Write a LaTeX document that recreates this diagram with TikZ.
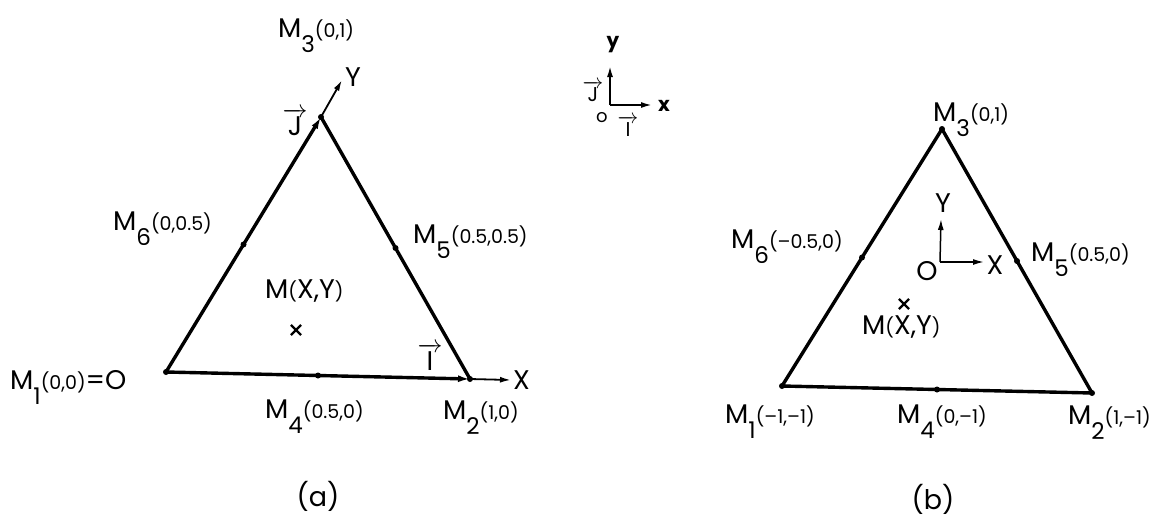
\documentclass[tikz,border=0pt]{standalone}
\usepackage{fontspec}
\setmainfont{Poppins}
\usetikzlibrary{arrows.meta,shapes.misc,calc}
\newcommand{\Mlab}[2]{M\raisebox{-15pt}{\fontsize{23}{23}\selectfont #1}{\fontsize{19}{19}\selectfont #2}}
\newcommand{\varr}[1]{$\overrightarrow{\hbox{\,#1\,}}$}
\begin{document}
\begin{tikzpicture}[x=1pt,y=-1pt,
  every node/.style={inner sep=0pt,font=\fontsize{27}{27}\selectfont},
  edge/.style={line width=3.4pt,line cap=round,line join=round},
  tip/.style={-{Latex[length=12pt,width=7pt]}},
  ax/.style={line width=1.8pt,-{Latex[length=11pt,width=6pt]}},
  vdot/.style={circle,fill,inner sep=0pt,minimum size=6pt},
  lab/.style={anchor=base west}]
\fill[white] (0,0) rectangle (1166,522);
\useasboundingbox (0,0) rectangle (1166,522);
% ---------- (a) ----------
\coordinate (A1) at (166,372);
\coordinate (A2) at (470,379);
\coordinate (A3) at (321,117);
\coordinate (A4) at ($(A1)!0.5!(A2)$);
\coordinate (A5) at ($(A2)!0.5!(A3)$);
\coordinate (A6) at ($(A1)!0.5!(A3)$);
\coordinate (AX) at (511,380);
\coordinate (AY) at (342,80);
\draw[edge] (A2) -- (A3);
\draw[edge,tip] (A1) -- (A2);
\draw[edge,tip] (A1) -- (A3);
\draw[ax] (A2) -- (AX);
\draw[ax] (A3) -- (AY);
\foreach \p in {A1,A2,A3,A4,A5,A6} \node[vdot] at (\p) {};
\node[anchor=west] (aX) at (513,380) {X};
\node (aY) at (353,77) {Y};
\node (aJ) at (295,122) {\varr{J}};
\node (aI) at (430,357) {\varr{I}};
\node[lab] (aM3) at (278,37) {\Mlab{3}{(0,1)}};
\node[lab] (aM6) at (113,230) {\Mlab{6}{(0,0.5)}};
\node[lab] (aM5) at (413,243) {\Mlab{5}{(0.5,0.5)}};
\node[lab] (aM1) at (10,389) {\Mlab{1}{(0,0)}=O};
\node[lab] (aM4) at (265,418) {\Mlab{4}{(0.5,0)}};
\node[lab] (aM2) at (443,419) {\Mlab{2}{(1,0)}};
\node[lab] (aM) at (265,298) {M{\fontsize{19}{19}\selectfont(}X,Y{\fontsize{19}{19}\selectfont)}};
\node[cross out,draw,line width=2.2pt,minimum size=8pt] (aP) at (296,330) {};
\node (acap) at (318,496) {(a)};
% ---------- middle axes ----------
\coordinate (C0) at (610,105);
\coordinate (Cx) at (652,105);
\coordinate (Cy) at (610,66);
\draw[ax] (C0) -- (Cx);
\draw[ax] (C0) -- (Cy);
\node[font=\fontsize{20}{20}\selectfont\bfseries] (cy) at (613,45) {y};
\node[font=\fontsize{20}{20}\selectfont\bfseries] (cx) at (664,106) {x};
\node[font=\fontsize{18}{18}\selectfont] (cO) at (602,118) {o};
\node[font=\fontsize{20}{20}\selectfont] (cJ) at (593,91) {\varr{J}};
\node[font=\fontsize{20}{20}\selectfont] (cI) at (628,126) {\varr{I}};
% ---------- (b) ----------
\coordinate (B1) at (782,386);
\coordinate (B2) at (1092,393);
\coordinate (B3) at (942,129);
\coordinate (B4) at ($(B1)!0.5!(B2)$);
\coordinate (B5) at ($(B2)!0.5!(B3)$);
\coordinate (B6) at ($(B1)!0.5!(B3)$);
\draw[edge] (B1) -- (B2) -- (B3) -- cycle;
\foreach \p in {B1,B2,B3,B4,B5,B6} \node[vdot] at (\p) {};
\coordinate (BO) at (940,262);
\coordinate (BX) at (984,262);
\coordinate (BY) at (941,219);
\draw[ax,line width=1.5pt] (BO) -- (BX);
\draw[ax,line width=1.5pt] (BO) -- (BY);
\node (bX) at (995,265) {X};
\node (bY) at (943,203) {Y};
\node (bO) at (927,271) {O};
\node[lab] (bM3) at (933,121) {\Mlab{3}{(0,1)}};
\node[lab] (bM6) at (731,248) {\Mlab{6}{(–0.5,0)}};
\node[lab] (bM5) at (1031,261) {\Mlab{5}{(0.5,0)}};
\node[lab] (bM1) at (725,423) {\Mlab{1}{(–1,–1)}};
\node[lab] (bM4) at (897,423) {\Mlab{4}{(0,–1)}};
\node[lab] (bM2) at (1068,424) {\Mlab{2}{(1,–1)}};
\node[lab] (bM) at (862,334) {M{\fontsize{19}{19}\selectfont(}X,Y{\fontsize{19}{19}\selectfont)}};
\node[cross out,draw,line width=2.2pt,minimum size=8pt] (bP) at (904,304) {};
\node (bcap) at (933,499) {(b)};
\end{tikzpicture}
\end{document}
